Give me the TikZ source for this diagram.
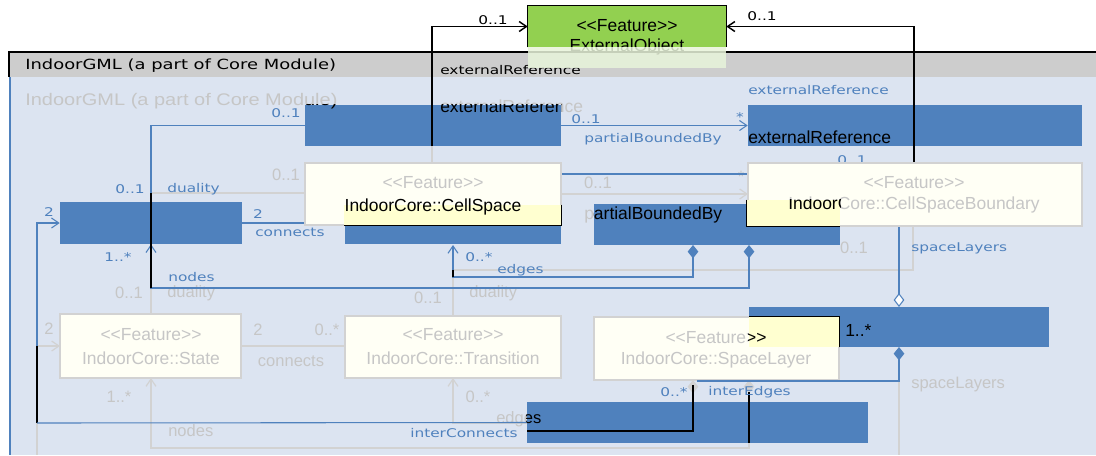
\documentclass[tikz,border=0pt]{standalone}
\usepackage{fontspec}
\setmainfont{Liberation Sans}
\newfontfamily\boxfont{Liberation Sans}
\newfontfamily\lblfont[FakeStretch=1.28]{DejaVu Sans}
\newfontfamily\ttlfont[FakeStretch=1.19]{Liberation Sans}
\usetikzlibrary{arrows.meta,fit,positioning}

\definecolor{hlblue}{RGB}{79,129,189}
\definecolor{pkgbody}{RGB}{220,228,241}
\definecolor{pkghead}{RGB}{205,205,205}
\definecolor{paleyel}{RGB}{255,255,245}
\definecolor{patchyel}{RGB}{255,255,208}
\definecolor{ghostln}{RGB}{210,210,210}
\definecolor{ghosttx}{RGB}{198,198,198}
\definecolor{featgreen}{RGB}{146,208,80}
\definecolor{fadegreen}{RGB}{232,244,218}

\newcommand{\feat}{<{}<Feature>{}>}

\begin{document}
\begin{tikzpicture}[x=0.75pt,y=-0.75pt,
	hlbox/.style={fill=hlblue, inner sep=0pt},
	gbox/.style={fill=paleyel, draw=ghostln, line width=1pt, inner sep=0pt},
	patch/.style={fill=patchyel, inner sep=0pt},
	gline/.style={draw=ghostln, line width=0.9pt},
	bline/.style={draw=hlblue, line width=0.8pt},
	kline/.style={draw=black, line width=1.1pt},
	lbl/.style={text=hlblue, font=\lblfont\fontsize{9}{10}\selectfont, inner sep=0pt},
	klbl/.style={lbl, text=black},
	hdr/.style={font=\lblfont\fontsize{10.5}{12}\selectfont, inner sep=0pt},
	ttl/.style={text=ghosttx, font=\ttlfont\fontsize{12.6}{14}\selectfont, inner sep=0pt},
	glbl/.style={text=ghosttx, font=\boxfont\fontsize{12.4}{14}\selectfont, inner sep=0pt},
	gtxt/.style={text=ghosttx, font=\boxfont\fontsize{13.1}{15}\selectfont, inner sep=0pt},
	ktxt/.style={gtxt, text=black},
	barb/.style={arrows={-Straight Barb[length=5.5pt,width=7.5pt]}},
	compo/.style={arrows={Diamond[length=10pt,width=8pt]-}},
	compobarb/.style={arrows={Diamond[length=10pt,width=8pt]-Straight Barb[length=5.5pt,width=7.5pt]}},
	aggr/.style={arrows={Diamond[fill=white,length=10.5pt,width=8pt]-}}]
	\useasboundingbox (0,0) rectangle (1096,455);
	\fill[white] (0,0) rectangle (1096,455);
	
	% package frame
	\node[fit={(10,52) (1096,77)}, inner sep=0pt, fill=pkghead] (pkghead) {};
	\node[fit={(10,77) (1096,455)}, inner sep=0pt, fill=pkgbody] (pkgbody) {};
	\draw[black, line width=1.5pt] (8,52) -- (1096,52);
	\draw[black, line width=2pt] (9,52) -- (9,77);
	\draw[hlblue, line width=2.2pt] (10,77) -- (10,455);
	\node[hdr, anchor=west] (pkgname) at (25,66) {IndoorGML (a part of Core Module)};
	\node[klbl, anchor=west] (hdrref) at (440,70) {externalReference};
	\node[ttl, anchor=west] (gtitle) at (25,101) {IndoorGML (a part of Core Module)};
	\node[gtxt, anchor=west] (gref) at (440,106) {externalReference};
	
	% external object
	\node[fit={(528,6) (726,47)}, inner sep=0pt, fill=featgreen] (extobj) {};
	\node[ktxt] (extst) at (627,26) {\feat};
	\node[ktxt] (extnm) at (627,47) {ExternalObject};
	\draw[kline] (extobj.south west) |- (extobj.north east) -- (extobj.south east);
	\fill[fadegreen, opacity=0.85] (528,47) rectangle (726,68);
	
	% ghost connectors
	\draw[gline] (432,146) -- (432,163);
	\draw[gline] (151,193) -- (305,193);
	\draw[gline, barb] (561,194) -- (748,194);
	\draw[gline] (913,226) |- (453,270);
	\draw[gline] (151,288) -- (151,314);
	\draw[gline] (453,277) -- (453,316);
	\draw[gline, barb] (37,346) -- (60,346);
	\draw[gline] (37,420) -- (37,455);
	\draw[gline] (241,346) -- (345,346);
	\draw[gline, compobarb] (749,380) |- (151,448) -- (151,378);
	\draw[gline, compobarb] (693,380) |- (453,423) -- (453,378);
	\draw[gline] (899,381) -- (899,455);
	
	\node[glbl] (g01a) at (286,175) {0..1};
	\node[glbl] (g01b) at (598,183) {0..1};
	\node[glbl] (gstar) at (741,177) {*};
	\node[gtxt, anchor=west] (gpbb) at (584,215) {partialBoundedBy};
	\node[glbl] (g01c) at (854,248) {0..1};
	\node[glbl] (g01d) at (129,293) {0..1};
	\node[glbl, anchor=west] (gdual1) at (167,293) {duality};
	\node[glbl] (g01e) at (428,298) {0..1};
	\node[glbl, anchor=west] (gdual2) at (469,293) {duality};
	\node[glbl] (g2a) at (49,329) {2};
	\node[glbl] (g2b) at (258,330) {2};
	\node[glbl] (g0sa) at (327,330) {0..*};
	\node[glbl] (gconn) at (291,361) {connects};
	\node[glbl] (g1sa) at (119,397) {1..*};
	\node[glbl, anchor=west] (gnodes) at (168,431) {nodes};
	\node[glbl] (g0sb) at (478,397) {0..*};
	\node[glbl, anchor=west] (gedges) at (496,419) {edges};
	\node[glbl, anchor=west] (gspl) at (911,385) {spaceLayers};
	
	% highlighted boxes
	\node[fit={(305,105) (561,146)}, hlbox] (hlRef) {};
	\node[fit={(748,105) (1082,146)}, hlbox] (hlExt) {};
	\node[fit={(60,202) (242,244)}, hlbox] (hlState) {};
	\node[fit={(345,200) (561,244)}, hlbox] (hlCell) {};
	\node[fit={(594,204) (840,245)}, hlbox] (hlBound) {};
	\node[fit={(527,402) (868,443)}, hlbox] (hlTrans) {};
	
	\draw[bline] (561,174) -- (914,174);
	\coordinate (kB) at (914,174);
	\draw[kline, barb] (kB) |- (extobj.east);
	\node[lbl] (b01d) at (852,160) {0..1};
	
	% faded classes
	\node[fit={(305,163) (561,225)}, gbox] (cellspace) {};
	\node[fit={(748,163) (1082,226)}, gbox] (csb) {};
	\node[fit={(60,314) (241,378)}, gbox] (state) {};
	\node[fit={(345,316) (561,378)}, gbox] (trans) {};
	\node[fit={(594,317) (839,380)}, gbox] (spacelayer) {};
	\node[gtxt] (csst) at (433,183) {\feat};
	\node[gtxt] (cbst) at (914,183) {\feat};
	\node[gtxt] (cbnm) at (914,205) {IndoorCore::CellSpaceBoundary};
	\node[gtxt] (stst) at (151,335) {\feat};
	\node[gtxt] (stnm) at (151,358) {IndoorCore::State};
	\node[gtxt] (trst) at (453,335) {\feat};
	\node[gtxt] (trnm) at (453,358) {IndoorCore::Transition};
	\node[gtxt] (slst) at (716,338) {\feat};
	\node[gtxt] (slnm) at (716,360) {IndoorCore::SpaceLayer};
	
	\node[fit={(749,307) (1049,347)}, hlbox] (hlLayer) {};
	
	% revealed parts
	\node[fit={(344,205) (561,225)}, patch] (cspatch) {};
	\draw[kline] (cspatch.north east) |- (cspatch.south west);
	\node[fit={(747,200) (840,226)}, patch] (cbpatch) {};
	\draw[kline] (cbpatch.north west) |- (cbpatch.south east);
	\node[fit={(749,317) (839,347)}, patch] (slpatch) {};
	\draw[kline] (slpatch.south east) |- (slpatch.north west);
	
	\node[ktxt] (kcell) at (433,207) {IndoorCore::CellSpace};
	\node[ktxt, anchor=west] (kext) at (748,137) {externalReference};
	\node[ktxt, anchor=west] (kmult) at (845,330) {1..*};
	\begin{scope}
		\clip (hlRef.south west) rectangle (hlRef.north east);
		\node[ttl, text=black, anchor=west] (ktitle) at (25,101) {IndoorGML (a part of Core Module)};
		\node[ktxt, anchor=west] (kref) at (440,106) {externalReference};
	\end{scope}
	\begin{scope}
		\clip (hlBound.south west) rectangle (hlBound.north east);
		\node[ktxt, anchor=west] (kpbb) at (584,215) {partialBoundedBy};
	\end{scope}
	\begin{scope}
		\clip (cbpatch.south west) rectangle (cbpatch.north east);
		\node[ktxt] (kcb) at (914,205) {IndoorCore::CellSpaceBoundary};
	\end{scope}
	\begin{scope}
		\clip (slpatch.south west) rectangle (slpatch.north east);
		\node[ktxt] (kslst) at (716,338) {\feat};
	\end{scope}
	\begin{scope}
		\clip (hlTrans.south west) rectangle (hlTrans.north east);
		\node[glbl, text=black, anchor=west] (kedges) at (496,419) {edges};
	\end{scope}
	
	% highlighted connectors
	\coordinate (kA) at (432,146);
	\draw[kline, barb] (kA) |- (extobj.west);
	\draw[bline] (hlRef.west) -| (151,193);
	\draw[bline, compobarb] (749,245) |- (151,288) -- (hlState.south);
	\draw[kline] (151,193) -- (151,288);
	\draw[bline, barb] (37,346) |- (hlState.west);
	\draw[kline] (37,346) -- (37,423);
	\draw[bline] (37,423) -- (hlTrans.west);
	\draw[bline] (hlState.east) -- (cellspace.west |- hlState.east);
	\draw[bline, barb] (hlRef.east) -- (hlExt.west);
	\draw[bline, compobarb] (693,245) |- (453,277) -- (453,245);
	\draw[kline] (453,270) -- (453,277);
	\draw[bline, aggr] (899,307) -- (csb.south -| 899,0);
	\draw[bline, compo] (899,347) |- (697,381);
	\draw[kline] (693,385) |- (527,431);
	\draw[kline] (749,392) -- (749,443);
	
	\node[klbl] (k01a) at (493,20) {0..1};
	\node[klbl] (k01b) at (762,16) {0..1};
	\node[lbl] (b01a) at (286,113) {0..1};
	\node[lbl] (b01b) at (130,189) {0..1};
	\node[lbl, anchor=west] (bdual) at (167,189) {duality};
	\node[lbl] (b2a) at (49,212) {2};
	\node[lbl] (b2b) at (258,214) {2};
	\node[lbl, anchor=west] (bconn) at (255,232) {connects};
	\node[lbl] (b1s) at (118,257) {1..*};
	\node[lbl, anchor=west] (bnodes) at (168,277) {nodes};
	\node[lbl] (b01c) at (586,119) {0..1};
	\node[lbl] (bstar) at (740,117) {*};
	\node[lbl, anchor=west] (bpbb) at (584,139) {partialBoundedBy};
	\node[lbl, anchor=west] (bext) at (748,90) {externalReference};
	\node[lbl, anchor=west] (b0s) at (465,257) {0..*};
	\node[lbl, anchor=west] (bedges) at (497,270) {edges};
	\node[lbl, anchor=west] (bspl) at (911,248) {spaceLayers};
	\node[lbl] (b0sb) at (674,392) {0..*};
	\node[lbl, anchor=west] (bintE) at (708,392) {interEdges};
	\node[lbl, anchor=west] (bintC) at (410,433) {interConnects};
\end{tikzpicture}
\end{document}
